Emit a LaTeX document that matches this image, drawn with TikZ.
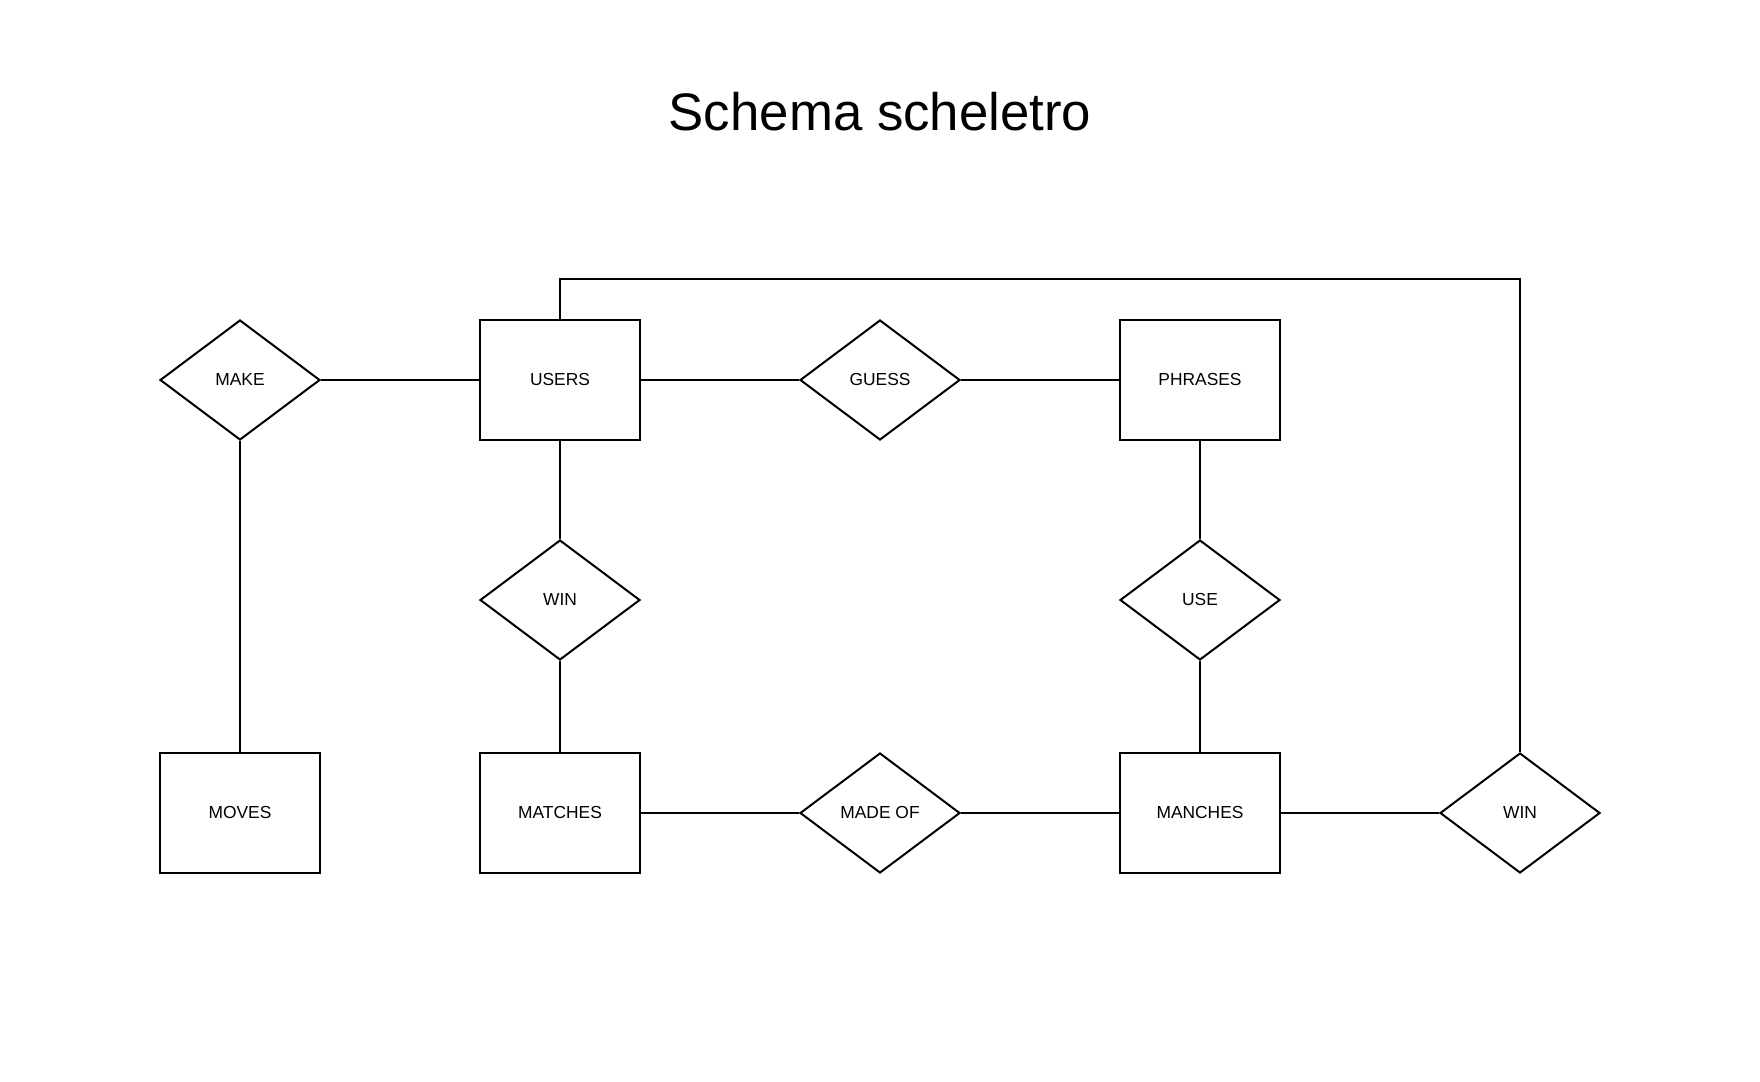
\documentclass[tikz,border=0pt]{standalone}
\usepackage{fontspec}
\setmainfont{Liberation Sans}
\usepackage{tikz}
\usetikzlibrary{shapes.geometric}
\pgfdeclarelayer{nodelayer}
\pgfdeclarelayer{edgelayer}
\pgfsetlayers{nodelayer,edgelayer,main}
\tikzset{
    entity/.style = {draw, line width=1pt, minimum width=80pt, minimum height=60pt, inner sep=0pt, font=\fontsize{8.7pt}{10pt}\selectfont},
    relation/.style = {draw, diamond, line width=1pt, minimum width=80pt, minimum height=60pt, inner sep=0pt, font=\fontsize{8.7pt}{10pt}\selectfont},
    link/.style = {line width=1pt}
}
\begin{document}
\begin{tikzpicture}[x=0.5pt, y=-0.5pt]
  \useasboundingbox (0, 0) rectangle (1760, 1081);
  \node [anchor=base, font=\fontsize{26.4pt}{30pt}\selectfont] (title) at (880, 130) {Schema scheletro};
  \begin{pgfonlayer}{nodelayer}
    \node [style=relation] (make) at (240, 380) {MAKE};
    \node [style=entity] (users) at (560, 380) {USERS};
    \node [style=relation] (guess) at (880, 380) {GUESS};
    \node [style=entity] (phrases) at (1200, 380) {PHRASES};
    \node [style=relation] (winmatch) at (560, 600) {WIN};
    \node [style=relation] (use) at (1200, 600) {USE};
    \node [style=entity] (moves) at (240, 813) {MOVES};
    \node [style=entity] (matches) at (560, 813) {MATCHES};
    \node [style=relation] (madeof) at (880, 813) {MADE OF};
    \node [style=entity] (manches) at (1200, 813) {MANCHES};
    \node [style=relation] (winmanche) at (1520, 813) {WIN};
    \coordinate (corner) at (1520, 279);
  \end{pgfonlayer}
  \begin{pgfonlayer}{edgelayer}
    \draw [style=link] (make.east) to (users.west);
    \draw [style=link] (users.east) to (guess.west);
    \draw [style=link] (guess.east) to (phrases.west);
    \draw [style=link] (make.south) to (moves.north);
    \draw [style=link] (users.south) to (winmatch.north);
    \draw [style=link] (winmatch.south) to (matches.north);
    \draw [style=link] (phrases.south) to (use.north);
    \draw [style=link] (use.south) to (manches.north);
    \draw [style=link] (matches.east) to (madeof.west);
    \draw [style=link] (madeof.east) to (manches.west);
    \draw [style=link] (manches.east) to (winmanche.west);
    \draw [style=link] (users.north) |- (corner) -- (winmanche.north);
  \end{pgfonlayer}
\end{tikzpicture}
\end{document}
